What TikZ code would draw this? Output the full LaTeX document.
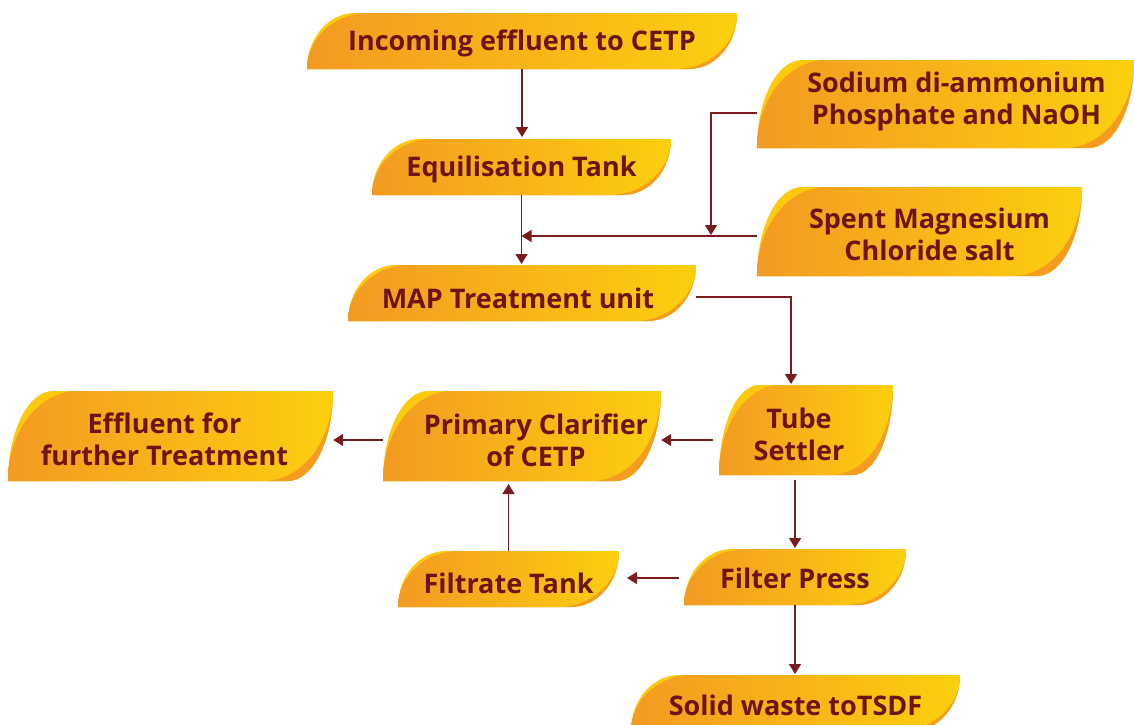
\documentclass[tikz,border=0pt]{standalone}
\usepackage{fontspec}
\setmainfont{Open Sans}
\usetikzlibrary{arrows.meta}
\definecolor{leafA}{HTML}{F39A22}
\definecolor{leafB}{HTML}{FCCF0E}
\definecolor{leafHi}{HTML}{FDC90F}
\definecolor{leafLo}{HTML}{F49C1F}
\definecolor{txtc}{HTML}{6E1414}
\definecolor{wirec}{HTML}{7A1C1E}
% #1 x0, #2 y0, #3 x1, #4 y1, #5 outer rx, #6 inner rx
\newcommand\leafbox[6]{%
  \fill[leafHi] (#1,#4) .. controls (#1,{#4-0.5523*(#4-#2)}) and ({#1+#5-0.5523*#5},#2) .. ({#1+#5},#2)
    -- (#3,#2) .. controls (#3,{#2+0.5523*(#4-#2)}) and ({#3-#5+0.5523*#5},#4) .. ({#3-#5},#4) -- cycle;
  \fill[leafLo] (#1,#4) .. controls (#1,{#4-0.5523*(#4-#2)}) and ({#1+#6-0.5523*#6},#2) .. ({#1+#6},#2)
    -- (#3,#2) .. controls (#3,{#2+0.5523*(#4-#2)}) and ({#3-#5+0.5523*#5},#4) .. ({#3-#5},#4) -- cycle;
  \shade[left color=leafA,right color=leafB] (#1,#4) .. controls (#1,{#4-0.5523*(#4-#2)}) and ({#1+#6-0.5523*#6},#2) .. ({#1+#6},#2)
    -- (#3,#2) .. controls (#3,{#2+0.5523*(#4-#2)}) and ({#3-#6+0.5523*#6},#4) .. ({#3-#6},#4) -- cycle;
}
\newcommand\txs[1]{\hspace*{#1}}
\tikzset{
  lbl/.style={font=\bfseries\fontsize{27}{32}\selectfont, text=txtc, align=center, inner sep=0pt},
  wire/.style={draw=wirec, line width=1.5pt, -{Triangle[length=10pt,width=12pt]}},
}
\begin{document}
\begin{tikzpicture}[x=1pt,y=-1pt]
\useasboundingbox (0,0) rectangle (1134,724);
\clip (0,0) rectangle (1134,724);
\fill[white] (0,0) rectangle (1134,724);
% shapes
\leafbox{307}{13}{737}{69}{48}{62}
\leafbox{757}{60}{1134}{148}{45}{70}
\leafbox{372}{139}{671}{195}{48}{62}
\leafbox{757}{187}{1082}{276}{45}{70}
\leafbox{348}{265}{696}{321}{48}{62}
\leafbox{719}{385}{893}{475}{40}{62}
\leafbox{383}{391}{661}{481}{45}{70}
\leafbox{8}{391}{333}{481}{45}{70}
\leafbox{398}{551}{619}{607}{48}{62}
\leafbox{684}{549}{906}{605}{48}{62}
\leafbox{631}{675}{960}{731}{48}{62}
% nodes
\node[lbl, minimum width=430pt, minimum height=56pt] (inc) at (522,43) {Incoming effluent to CETP};
\node[lbl, minimum width=377pt, minimum height=88pt] (sod) at (945.5,101) {\txs{22pt}Sodium di-ammonium\\\txs{22pt}Phosphate and NaOH};
\node[lbl, minimum width=299pt, minimum height=56pt] (equ) at (521.5,169) {Equilisation Tank};
\node[lbl, minimum width=325pt, minimum height=89pt] (spent) at (919.5,234) {\txs{20pt}Spent Magnesium\\\txs{20pt}Chloride salt};
\node[lbl, minimum width=348pt, minimum height=56pt] (map) at (522,298) {\txs{-8pt}MAP Treatment unit};
\node[lbl, minimum width=174pt, minimum height=90pt] (tube) at (806,434) {\txs{-14pt}Tube\\\txs{-14pt}Settler};
\node[lbl, minimum width=278pt, minimum height=90pt] (prim) at (522,440) {\txs{28pt}Primary Clarifier\\\txs{28pt}of CETP};
\node[lbl, minimum width=325pt, minimum height=90pt] (eff) at (170.5,439) {\txs{-12pt}Effluent for\\\txs{-12pt}further Treatment};
\node[lbl, minimum width=221pt, minimum height=56pt] (ftank) at (508.5,583) {Filtrate Tank};
\node[lbl, minimum width=222pt, minimum height=56pt] (filt) at (795,578) {Filter Press};
\node[lbl, minimum width=329pt, minimum height=56pt] (solid) at (795.5,705) {Solid waste toTSDF};
% connectors
\draw[wire, shorten >=2pt] (inc.south |- 0,69) -- (inc.south |- 0,139);
\draw[wire, shorten >=1pt] (equ.south |- 0,195) -- (equ.south |- 0,265);
\coordinate (sp) at (spent.west |- 0,236);
\coordinate (spx) at (equ.south |- sp);
\draw[wire] (sp) -- (spx);
\coordinate (sd) at (sod.west |- 0,113);
\coordinate (kn) at (711,113);
\draw[wire, shorten >=1pt] (sd) -- (kn) -- (kn |- sp);
\coordinate (mp) at (map.east |- 0,297);
\coordinate (mk) at (791,297);
\draw[wire, shorten >=1pt] (mp) -- (mk) -- (mk |- 0,385);
\coordinate (ts) at (713,440);
\draw[wire] (ts) -- (prim.east |- ts);
\coordinate (pw) at (prim.west |- 0,440);
\draw[wire] (pw) -- (eff.east |- pw);
\coordinate (tb) at (795,480);
\draw[wire, shorten >=1pt] (tb) -- (tb |- 0,549);
\coordinate (fw) at (679,578);
\coordinate (fe) at (627,578);
\draw[wire] (fw) -- (fe);
\draw[wire, shorten >=3pt] (ftank.north |- 0,551) -- (ftank.north |- 0,481);
\draw[wire, shorten >=1pt] (filt.south |- 0,605) -- (filt.south |- 0,675);
\end{tikzpicture}
\end{document}
